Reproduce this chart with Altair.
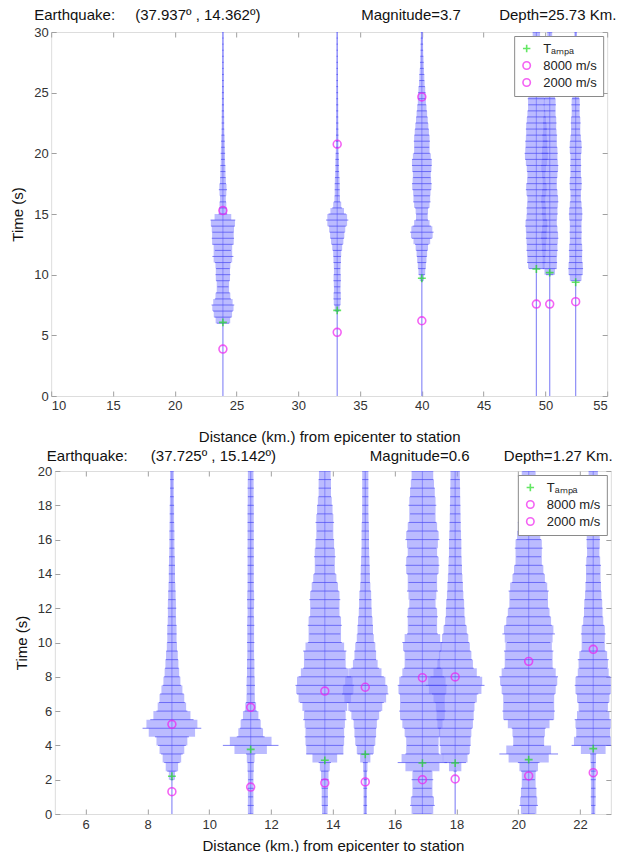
import altair as alt
import pandas as pd

STEP = 0.5  # sampling interval (s) of the envelope readings below

# ---------------- upper event ----------------
top_header = ["Earthquake:", "(37.937º , 14.362º)", "Magnitude=3.7", "Depth=25.73 Km."]
top_dist = [23.9, 33.15, 40.0, 49.27, 50.35, 52.45]
top_start = [6.0, 7.0, 9.5, 10.5, 10.0, 9.5]
top_amp = [
    [0.5, 0.68, 0.8, 0.92, 0.65, 0.55, 0.45, 0.55, 0.6, 0.55, 0.65, 0.85, 0.65, 0.85, 0.9, 0.85,
     0.95, 1.0, 0.35, 0.3, 0.25, 0.22, 0.33, 0.25, 0.22, 0.2, 0.2, 0.15, 0.18, 0.14, 0.15, 0.12,
     0.1, 0.1, 0.1, 0.09, 0.08, 0.08, 0.08, 0.07, 0.07, 0.07, 0.06, 0.06, 0.06, 0.06, 0.05, 0.05, 0.05],
    [0.15, 0.25, 0.3, 0.28, 0.25, 0.3, 0.28, 0.25, 0.3, 0.3, 0.35, 0.45, 0.55, 0.6, 0.7, 0.9,
     0.7, 0.4, 0.25, 0.2, 0.2, 0.2, 0.18, 0.15, 0.15, 0.14, 0.12, 0.1, 0.1, 0.1, 0.09, 0.09,
     0.08, 0.08, 0.08, 0.07, 0.07, 0.07, 0.06, 0.06, 0.06, 0.06, 0.05, 0.05, 0.05, 0.05, 0.05],
    [0.1, 0.25, 0.3, 0.35, 0.4, 0.45, 0.55, 0.8, 0.95, 0.75, 0.5, 0.45, 0.55, 0.7, 0.65, 0.75,
     0.8, 0.7, 0.75, 0.8, 0.8, 0.65, 0.6, 0.65, 0.6, 0.55, 0.5, 0.45, 0.4, 0.35, 0.3, 0.3,
     0.25, 0.2, 0.2, 0.15, 0.15, 0.12, 0.1, 0.1, 0.08, 0.08],
    [0.6, 0.75, 0.7, 0.8, 0.75, 0.85, 0.8, 0.9, 0.85, 0.75, 0.8, 0.7, 0.75, 0.85, 0.8, 0.7,
     0.75, 0.8, 0.9, 0.95, 0.85, 0.9, 0.8, 0.85, 0.8, 0.75, 0.7, 0.65, 0.7, 0.6, 0.55, 0.6,
     0.5, 0.5, 0.45, 0.4, 0.4, 0.35, 0.3, 0.3],
    [0.3, 0.55, 0.6, 0.55, 0.65, 0.6, 0.7, 0.65, 0.6, 0.55, 0.65, 0.6, 0.7, 0.65, 0.6, 0.55,
     0.6, 0.65, 0.7, 0.6, 0.65, 0.6, 0.55, 0.6, 0.5, 0.55, 0.5, 0.45, 0.5, 0.45, 0.4, 0.4,
     0.35, 0.35, 0.3, 0.3, 0.25, 0.25, 0.2, 0.2, 0.2],
    [0.4, 0.55, 0.6, 0.55, 0.5, 0.55, 0.5, 0.45, 0.5, 0.45, 0.5, 0.55, 0.5, 0.45, 0.4, 0.45,
     0.5, 0.45, 0.4, 0.45, 0.4, 0.45, 0.5, 0.45, 0.4, 0.35, 0.4, 0.35, 0.3, 0.35, 0.3, 0.25,
     0.3, 0.25, 0.2, 0.2, 0.2, 0.15, 0.15, 0.12, 0.12, 0.1],
]
top_tampa = [6.07, 7.06, 9.7, 10.47, 10.17, 9.37]
top_v8000 = [3.87, 5.25, 6.2, 7.58, 7.58, 7.77]
top_v2000 = [15.28, 20.75, 24.65, None, None, None]
top_xdomain = [10, 55]
top_xticks = [10, 15, 20, 25, 30, 35, 40, 45, 50, 55]
top_ydomain = [0, 30]
top_yticks = [0, 5, 10, 15, 20, 25, 30]

# ---------------- lower event ----------------
bot_header = ["Earthquake:", "(37.725º , 15.142º)", "Magnitude=0.6", "Depth=1.27 Km."]
bot_dist = [8.79, 11.34, 13.74, 15.05, 16.9, 17.96, 20.34, 22.43]
bot_start = [2.0, 0.0, 0.0, 0.0, 0.0, 2.5, 0.0, 0.0]
bot_amp = [
    [0.05, 0.15, 0.25, 0.35, 0.45, 0.55, 0.95, 0.7, 0.5, 0.42, 0.38, 0.3, 0.25, 0.22, 0.2, 0.18,
     0.15, 0.15, 0.15, 0.12, 0.14, 0.12, 0.12, 0.1, 0.1, 0.1, 0.09, 0.08, 0.08, 0.08, 0.07,
     0.07, 0.07, 0.06, 0.06, 0.06, 0.06],
    [0.08, 0.1, 0.08, 0.1, 0.08, 0.1, 0.1, 0.15, 0.9, 0.45, 0.35, 0.3, 0.2, 0.15, 0.12, 0.14,
     0.12, 0.12, 0.12, 0.1, 0.12, 0.1, 0.12, 0.1, 0.1, 0.12, 0.1, 0.1, 0.1, 0.1, 0.1, 0.1,
     0.1, 0.1, 0.1, 0.1, 0.1, 0.09, 0.1, 0.09, 0.09],
    [0.08, 0.1, 0.1, 0.1, 0.12, 0.12, 0.2, 0.6, 0.6, 0.65, 0.6, 0.7, 0.65, 0.8, 0.9, 0.95,
     0.85, 0.7, 0.65, 0.7, 0.55, 0.5, 0.55, 0.5, 0.45, 0.5, 0.45, 0.4, 0.35, 0.3, 0.35, 0.3,
     0.3, 0.25, 0.3, 0.25, 0.25, 0.2, 0.2, 0.2, 0.18],
    [0.05, 0.06, 0.05, 0.06, 0.05, 0.06, 0.08, 0.25, 0.3, 0.35, 0.35, 0.4, 0.5, 0.6, 0.75, 0.7,
     0.6, 0.45, 0.35, 0.35, 0.3, 0.25, 0.25, 0.22, 0.2, 0.2, 0.18, 0.15, 0.15, 0.14, 0.13,
     0.12, 0.12, 0.12, 0.11, 0.1, 0.1, 0.1, 0.1, 0.1, 0.1],
    [0.3, 0.4, 0.35, 0.3, 0.35, 0.3, 0.8, 0.55, 0.5, 0.55, 0.6, 0.7, 0.75, 0.7, 0.75, 0.8,
     0.7, 0.6, 0.55, 0.6, 0.65, 0.5, 0.45, 0.5, 0.45, 0.4, 0.5, 0.45, 0.5, 0.55, 0.5, 0.45,
     0.55, 0.5, 0.45, 0.4, 0.45, 0.4, 0.4, 0.35, 0.35],
    [0.05, 0.35, 0.45, 0.5, 0.5, 0.55, 0.6, 0.6, 0.65, 0.75, 0.95, 0.8, 0.6, 0.55, 0.5, 0.45,
     0.4, 0.35, 0.3, 0.3, 0.28, 0.25, 0.25, 0.22, 0.22, 0.2, 0.2, 0.2, 0.18, 0.18, 0.17,
     0.17, 0.16, 0.16, 0.15, 0.15],
    [0.2, 0.3, 0.25, 0.25, 0.2, 0.25, 0.35, 0.95, 0.5, 0.5, 0.55, 0.8, 0.85, 0.8, 0.85, 0.9,
     0.95, 0.8, 0.75, 0.8, 0.7, 0.85, 0.75, 0.7, 0.65, 0.6, 0.65, 0.55, 0.5, 0.45, 0.4, 0.45,
     0.4, 0.35, 0.35, 0.3, 0.3, 0.3, 0.25, 0.25, 0.2],
    [0.06, 0.07, 0.08, 0.07, 0.08, 0.08, 0.08, 0.1, 0.7, 0.55, 0.55, 0.6, 0.45, 0.5, 0.55, 0.6,
     0.55, 0.45, 0.5, 0.4, 0.35, 0.4, 0.35, 0.3, 0.3, 0.28, 0.25, 0.25, 0.22, 0.25, 0.2, 0.2,
     0.22, 0.2, 0.18, 0.18, 0.2, 0.17, 0.16, 0.15, 0.15],
]
bot_tampa = [2.2, 3.77, 3.13, 3.48, 2.97, 2.97, 3.17, 3.81]
bot_v8000 = [1.3, 1.57, 1.81, 1.87, 2.0, 2.04, 2.22, 2.41]
bot_v2000 = [5.23, 6.22, 7.17, 7.39, 7.95, 7.99, 8.9, 9.6]
bot_xdomain = [5, 23]
bot_xticks = [6, 8, 10, 12, 14, 16, 18, 20, 22]
bot_ydomain = [0, 20]
bot_yticks = [0, 2, 4, 6, 8, 10, 12, 14, 16, 18, 20]

SERIES = ["Tₐₘₚₐ", "8000 m/s", "2000 m/s"]
PLUS = "M-1,0L1,0M0,-1L0,1"
FONT = "Liberation Sans"
TRACE = "#4a4af2"
FILL = "#8e8eff"
BASE = "#8d8df7"
AX = "#a0a0a0"


def wiggle_frame(dist, start, amps):
    rows = []
    for d, t0, aa in zip(dist, start, amps):
        for j, a in enumerate(aa):
            rows.append({"station": d, "t": t0 + j * STEP, "lo": d - a, "hi": d + a})
    return pd.DataFrame(rows)


def marker_frame(dist, tampa, v8, v2):
    rows = []
    for d, a, b, c in zip(dist, tampa, v8, v2):
        rows.append({"station": d, "t": a, "series": SERIES[0]})
        rows.append({"station": d, "t": b, "series": SERIES[1]})
        if c is not None:
            rows.append({"station": d, "t": c, "series": SERIES[2]})
    return pd.DataFrame(rows)


def panel(header, hx, hy, dist, start, amps, tampa, v8, v2, xdom, xticks, ydom, yticks,
          w, h, title_pad, label_pad):
    xs = alt.Scale(domain=xdom, nice=False, zero=False)
    ys = alt.Scale(domain=ydom, nice=False, zero=False)
    common = dict(offset=-5, tickSize=5, domain=False, grid=False, tickColor=AX,
                  labelFont=FONT, labelFontSize=13, labelColor="#333",
                  titleFont=FONT, titleFontSize=15, titleFontWeight="normal",
                  titleColor="#111")
    x_main = alt.Axis(values=xticks, title="Distance (km.) from epicenter to station",
                      labelPadding=label_pad, titlePadding=title_pad, **common)
    y_main = alt.Axis(values=yticks, title="Time (s)", labelPadding=3, titlePadding=8, **common)
    x_top = alt.Axis(values=xticks, orient="top", labels=False, title=None, **common)
    y_right = alt.Axis(values=yticks, orient="right", labels=False, title=None, **common)

    base_df = pd.DataFrame({"station": dist, "y0": [ydom[0]] * len(dist),
                            "y1": [ydom[1]] * len(dist)})
    wig = wiggle_frame(dist, start, amps)
    mk = marker_frame(dist, tampa, v8, v2)

    baseline = alt.Chart(base_df).mark_rule(color=BASE, strokeWidth=1.2).encode(
        x=alt.X("station:Q", scale=xs, axis=x_main),
        y=alt.Y("y0:Q", scale=ys, axis=y_main),
        y2="y1:Q",
    )
    area = alt.Chart(wig).mark_area(orient="horizontal", color=FILL, opacity=0.6,
                                    interpolate="step", clip=True).encode(
        y=alt.Y("t:Q", scale=ys, axis=y_right),
        x=alt.X("lo:Q", scale=xs, axis=x_top),
        x2="hi:Q",
        detail="station:N",
    )
    strokes = alt.Chart(wig).mark_rule(color=TRACE, strokeWidth=1.0, opacity=0.7,
                                       clip=True).encode(
        x=alt.X("lo:Q", scale=xs, axis=None),
        x2="hi:Q",
        y=alt.Y("t:Q", scale=ys, axis=None),
    )
    leg = alt.Legend(orient="top-right", title=None, offset=4, padding=6,
                     strokeColor="#8a8a8a", fillColor="white", labelFontSize=13,
                     labelFont=FONT, labelColor="#222", symbolStrokeWidth=1.6,
                     symbolSize=55, rowPadding=2, labelOffset=10, cornerRadius=0)
    markers = alt.Chart(mk).mark_point(filled=False, size=62, strokeWidth=1.6).encode(
        x=alt.X("station:Q", scale=xs, axis=None),
        y=alt.Y("t:Q", scale=ys, axis=None),
        color=alt.Color("series:N", sort=SERIES,
                        scale=alt.Scale(domain=SERIES, range=["#22dd22", "#f020f0", "#f020f0"]),
                        legend=leg),
        shape=alt.Shape("series:N", sort=SERIES,
                        scale=alt.Scale(domain=SERIES, range=[PLUS, "circle", "circle"]),
                        legend=leg),
    )
    texts = []
    for s, px in zip(header, hx):
        texts.append(
            alt.Chart(pd.DataFrame({"label": [s]})).mark_text(
                align="left", baseline="middle", fontSize=15, font=FONT, color="#111"
            ).encode(text="label:N", x=alt.value(px), y=alt.value(hy))
        )
    return (alt.layer(baseline, area, strokes, markers, *texts)
            .resolve_axis(x="independent", y="independent")
            .properties(width=w, height=h))


top = panel(top_header, [-17, 84, 310, 448], -17, top_dist, top_start, top_amp,
            top_tampa, top_v8000, top_v2000, top_xdomain, top_xticks,
            top_ydomain, top_yticks, 556, 364, 17, 3)
bot = panel(bot_header, [-8, 96, 315, 449], -15, bot_dist, bot_start, bot_amp,
            bot_tampa, bot_v8000, bot_v2000, bot_xdomain, bot_xticks,
            bot_ydomain, bot_yticks, 556, 343, 7, 4)

chart = (alt.vconcat(top, bot, spacing=3, center=True)
         .resolve_scale(x="independent", y="independent",
                        color="independent", shape="independent")
         .resolve_legend(color="independent", shape="independent")
         .properties(padding={"left": 10, "top": 7, "right": 2, "bottom": 2})
         .configure_view(stroke=AX, strokeWidth=1)
         .configure(background="white"))

chart.save("out.html", embed_options={"renderer": "svg", "actions": False})
